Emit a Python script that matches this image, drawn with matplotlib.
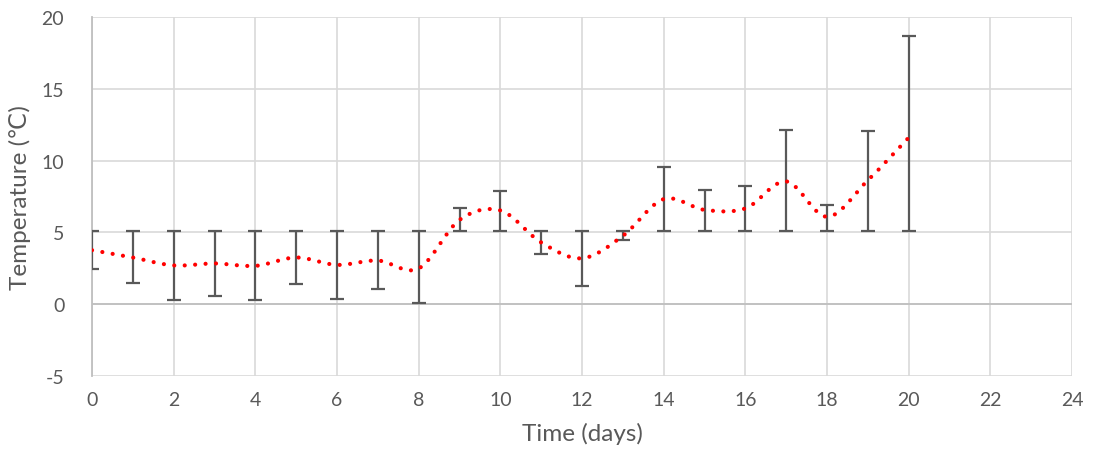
import numpy as np
import matplotlib
matplotlib.use('Agg')
import matplotlib.pyplot as plt
from matplotlib.path import Path
from matplotlib.patches import PathPatch

# data
days = [0, 1, 2, 3, 4, 5, 6, 7, 8, 9, 10, 11, 12, 13, 14, 15, 16, 17, 18, 19, 20]
temp = [3.76, 3.25, 2.70, 2.84, 2.67, 3.25, 2.74, 3.04, 2.49, 5.87, 6.53,
        4.30, 3.20, 4.76, 7.32, 6.57, 6.67, 8.55, 6.09, 8.63, 11.6]
err_low = [2.45, 1.51, 0.30, 0.58, 0.26, 1.42, 0.37, 1.05, 0.08, 5.10, 5.10,
           3.53, 1.28, 4.46, 5.10, 5.10, 5.10, 5.10, 5.10, 5.10, 5.10]
err_high = [5.11, 5.11, 5.10, 5.10, 5.10, 5.10, 5.10, 5.10, 5.10, 6.67, 7.90,
            5.09, 5.09, 5.09, 9.57, 7.94, 8.22, 12.13, 6.92, 12.08, 18.65]

xticks = list(range(0, 25, 2))
yticks = [-5, 0, 5, 10, 15, 20]

grey = '#595959'
plt.rcParams['font.family'] = ['Lato', 'DejaVu Sans']
plt.rcParams['axes.unicode_minus'] = False

fig = plt.figure(figsize=(10.93, 4.64), dpi=100)
ax = fig.add_axes([0.0842, 0.1875, 0.8966, 0.7737])

# smoothed line (catmull-rom as cubic bezier, like excel's smooth line)
pts = np.column_stack([days, temp]).astype(float)
n = len(pts)
verts = [pts[0]]
codes = [Path.MOVETO]
for i in range(n - 1):
  p0 = pts[max(i - 1, 0)]
  p1 = pts[i]
  p2 = pts[i + 1]
  p3 = pts[min(i + 2, n - 1)]
  c1 = p1 + (p2 - p0) / 6.0
  c2 = p2 - (p3 - p1) / 6.0
  verts += [c1, c2, p2]
  codes += [Path.CURVE4] * 3
curve = PathPatch(Path(verts, codes), fill=False, edgecolor='#ff0000', lw=3.0,
                  linestyle=(0, (0.01, 2.5)), capstyle='round', zorder=4)
ax.add_patch(curve)

t = np.array(temp)
yerr = [t - np.array(err_low), np.array(err_high) - t]
ax.errorbar(days, temp, yerr=yerr, fmt='none', ecolor=grey, elinewidth=1.6,
            capsize=5, capthick=1.6, zorder=3)

ax.set_xlim(0, 24)
ax.set_ylim(-5, 20)
ax.set_xticks(xticks)
ax.set_yticks(yticks)
ax.grid(True, color='#d9d9d9', lw=1.2)
ax.set_axisbelow(True)
ax.axhline(0, color='#bfbfbf', lw=1.3, zorder=1)
for s in ['top', 'right', 'bottom']:
  ax.spines[s].set_visible(False)
ax.spines['left'].set_color('#bfbfbf')
ax.spines['left'].set_linewidth(1.3)
ax.tick_params(length=0, labelsize=14, labelcolor=grey)
ax.tick_params(axis='x', pad=11)
ax.tick_params(axis='y', pad=20)
ax.set_xlabel('Time (days)', fontsize=17.5, color=grey, labelpad=10)
ax.set_ylabel('Temperature (℃)', fontsize=17.5, color=grey, labelpad=8)

fig.savefig('out.png', dpi=100)
